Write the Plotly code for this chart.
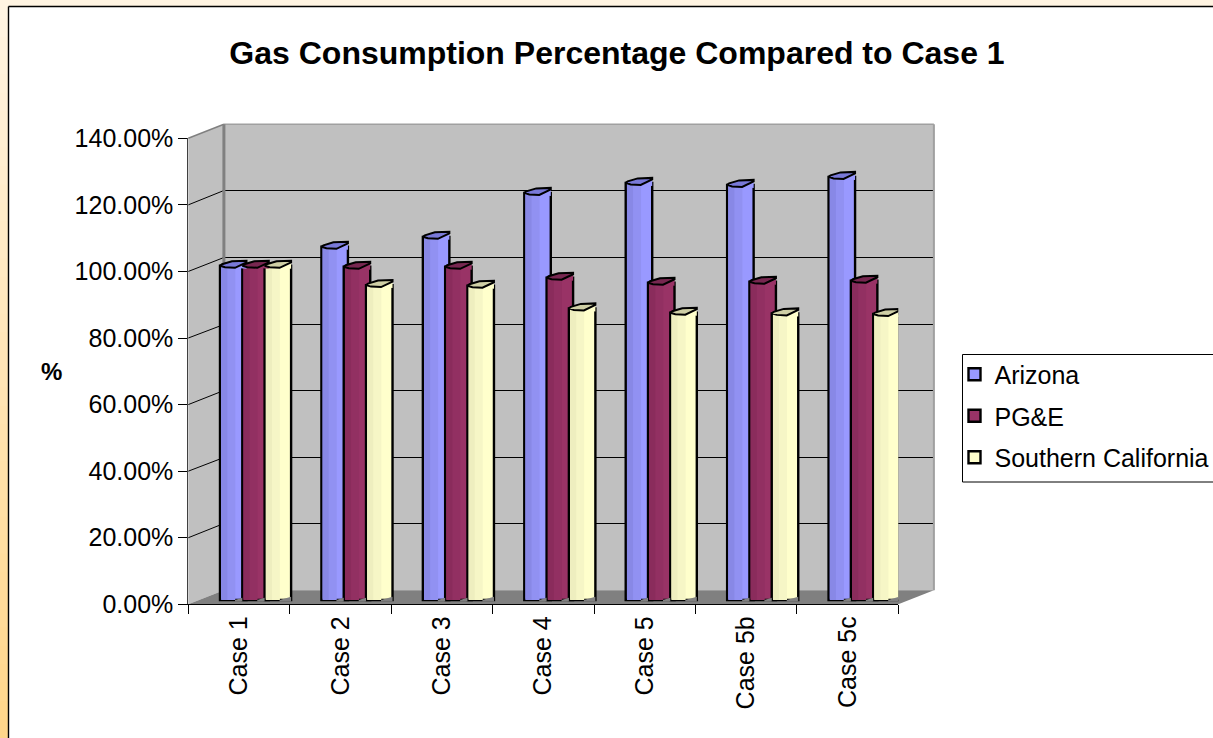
import math
import plotly.graph_objects as go

categories = ["Case 1", "Case 2", "Case 3", "Case 4", "Case 5", "Case 5b", "Case 5c"]
arizona = [100, 105.7, 108.7, 121.9, 124.9, 124.3, 126.7]
pge = [100, 99.7, 99.7, 96.4, 94.9, 95.2, 95.5]
socal = [100, 94.2, 94, 87.2, 85.9, 85.7, 85.5]
series_names = ["Arizona", "PG&E", "Southern California"]
y_ticks = [0, 20, 40, 60, 80, 100, 120, 140]
y_labels = ["0.00%", "20.00%", "40.00%", "60.00%", "80.00%", "100.00%", "120.00%", "140.00%"]

W, H = 1213, 738
X0, X1, Y0, Y1 = 188.3, 898.3, 604.3, 138.3   # front plane of the axes in pixels
DX, DY = 35.6, 14.0                            # 3D depth in pixels
ux = (X1 - X0) / 7
uy = (Y0 - Y1) / 140
FONT = "Liberation Sans"

def px(x): return x / W
def py(y): return 1 - y / H

shapes = []
def poly(pts, fill, line=None, lw=0):
    path = "M" + "L".join(f"{px(a):.5f},{py(b):.5f}" for a, b in pts) + "Z"
    shapes.append(dict(type="path", path=path, xref="paper", yref="paper", layer="below",
                       fillcolor=fill, line=dict(color=line or "rgba(0,0,0,0)", width=lw)))
def seg(x0, y0, x1, y1, color, lw):
    shapes.append(dict(type="line", x0=px(x0), y0=py(y0), x1=px(x1), y1=py(y1), xref="paper", yref="paper",
                       layer="below", line=dict(color=color, width=lw)))

# page band with vertical gradient
BAND = 8
steps = 40
top_c, bot_c = (255, 244, 226), (255, 214, 138)
for k in range(steps):
    t = k / (steps - 1)
    c = tuple(round(a + (b - a) * t) for a, b in zip(top_c, bot_c))
    poly([(0, H * k / steps), (BAND, H * k / steps), (BAND, H * (k + 1) / steps + 1), (0, H * (k + 1) / steps + 1)],
         f"rgb{c}")
poly([(0, 0), (W, 0), (W, 6), (0, 6)], "rgb(255,244,226)")
seg(8.5, 6.5, W, 6.5, "black", 1.4)
seg(8.5, 6.5, 8.5, H, "black", 1.4)

# walls and floor
poly([(X0 + DX, Y1 - DY), (X1 + DX, Y1 - DY), (X1 + DX, Y0 - DY), (X0 + DX, Y0 - DY)], "#c0c0c0")
poly([(X0, Y1), (X0 + DX, Y1 - DY), (X0 + DX, Y0 - DY), (X0, Y0)], "#c0c0c0")
poly([(X0, Y0), (X0 + DX, Y0 - DY), (X1 + DX, Y0 - DY), (X1, Y0)], "#808080")
for v in y_ticks[1:-1]:
    y = Y0 - v * uy
    yb = math.floor(y - DY) + 0.5
    seg(X0, y, X0 + DX, yb, "black", 1)
    seg(X0 + DX, yb, X1 + DX, yb, "black", 1)
seg(X0, Y1, X0 + DX, Y1 - DY, "#808080", 1.5)
seg(X0 + DX, Y1 - DY, X1 + DX, Y1 - DY, "#a0a0a0", 1.5)
seg(X0 + DX, Y1 - DY, X0 + DX, Y0 - DY, "#808080", 3)
seg(X1 + DX, Y1 - DY, X1 + DX, Y0 - DY, "#a0a0a0", 2)

# legend frame (runs off the right edge as in the source)
shapes.append(dict(type="rect", x0=px(962.5), x1=px(W + 5), y0=py(354.5), y1=py(482), xref="paper", yref="paper",
                   layer="below", fillcolor="white", line=dict(color="black", width=1)))

# bars: column placement
BASE = 1.3
HEAD = 0.4
BAR_W = 26.5 / ux
GAP = 22.3 / ux
START = (220 - X0) / ux - 0.5
indices = list(range(len(categories)))
styles = [("#9999ff", "#9191f2", "#8888e6", "#7979d8"),
          ("#993366", "#923062", "#8a2c5c", "#772750"),
          ("#ffffcc", "#f6f6c6", "#eeeebf", "#cfcfa5")]
values = [arizona, pge, socal]

fig = go.Figure()
for s, (vals, name, st) in enumerate(zip(values, series_names, styles)):
    off = START + s * GAP
    heights = [v + HEAD for v in vals]
    fig.add_trace(go.Bar(x=indices, y=heights, base=BASE, width=BAR_W, offset=off, name=name,
                         legendgroup=name, marker=dict(color=st[0], line=dict(color="black", width=2.4)),
                         cliponaxis=False))
    fig.add_trace(go.Bar(x=indices, y=heights, base=BASE, width=14 / ux, offset=off + 1.3 / ux, showlegend=False,
                         marker=dict(color=st[1], line=dict(width=0)), cliponaxis=False))
    fig.add_trace(go.Bar(x=indices, y=heights, base=BASE, width=6 / ux, offset=off + 1.3 / ux, showlegend=False,
                         marker=dict(color=st[2], line=dict(width=0)), cliponaxis=False))

CAP = [(0, 0), (2, -1.5), (12, -4.5), (26.5, -5), (26.5, -3.5), (15, 2), (5, 1.5)]
for s, (vals, st) in enumerate(zip(values, styles)):
    off = START + s * GAP
    cx, cy, sx, sy, fx, fy = [], [], [], [], [], []
    for i, v in zip(indices, vals):
        left = i + off
        top = v + HEAD + BASE
        cx += [left + a / ux for a, _ in CAP] + [left, None]
        cy += [top - b / uy for _, b in CAP] + [top, None]
        sx += [left + 15 / ux, left + 26.5 / ux, left + 26.5 / ux, None]
        sy += [top - 2 / uy, top + 3.5 / uy, top - 3 / uy, None]
        foot_end = 26.5 if s == 2 else 22.3
        rise = 3.2 * (foot_end - 15) / 11
        fx += [left + 15 / ux, left + foot_end / ux, left + foot_end / ux, left + 15 / ux, None]
        fy += [BASE, BASE + rise / uy, BASE - 1.5 / uy, BASE - 1.5 / uy, None]
    fig.add_trace(go.Scatter(x=sx, y=sy, mode="lines", fill="toself", fillcolor=st[0], showlegend=False,
                             line=dict(color="rgba(0,0,0,0)", width=0), cliponaxis=False, hoverinfo="skip"))
    fig.add_trace(go.Scatter(x=cx, y=cy, mode="lines", fill="toself", fillcolor=st[3], showlegend=False,
                             line=dict(color="black", width=2), cliponaxis=False, hoverinfo="skip"))
    fig.add_trace(go.Scatter(x=fx, y=fy, mode="lines", fill="toself", fillcolor="#808080", showlegend=False,
                             line=dict(color="rgba(0,0,0,0)", width=0), cliponaxis=False, hoverinfo="skip"))

fig.update_layout(
    width=W, height=H, autosize=False, barmode="overlay",
    margin=dict(l=0, r=0, t=0, b=0, autoexpand=False),
    paper_bgcolor="white", plot_bgcolor="rgba(0,0,0,0)",
    font=dict(family=FONT, color="black", size=25),
    title=dict(text="<b>Gas Consumption Percentage Compared to Case 1</b>", x=617 / W, xanchor="center",
               y=py(53), yanchor="middle", font=dict(family=FONT, size=32, color="black")),
    xaxis=dict(domain=[px(X0), px(X1)], range=[-0.5, 6.5], tickmode="array", tickvals=indices, ticktext=categories,
               tickangle=-90, ticks="outside", ticklen=1, tickcolor="rgba(0,0,0,0)", showgrid=False, zeroline=False,
               showline=True, linecolor="black", linewidth=1, tickfont=dict(size=25),
               minor=dict(ticks="outside", tick0=-0.5, dtick=1, ticklen=9, tickcolor="black", tickwidth=1, showgrid=False)),
    yaxis=dict(domain=[py(Y0), py(Y1)], range=[0, 140], tickmode="array", tickvals=y_ticks, ticktext=y_labels,
               ticks="outside", ticklen=9, tickcolor="black", tickwidth=1, showgrid=False, zeroline=False,
               showline=True, linecolor="#404040", linewidth=1, tickfont=dict(size=25)),
    legend=dict(x=954.5 / W, xanchor="left", y=py(351.5), yanchor="top", bgcolor="rgba(0,0,0,0)", borderwidth=0,
                font=dict(size=25), traceorder="grouped", tracegroupgap=6),
    annotations=[dict(text="<b>%</b>", x=51.5 / W, y=py(371), xref="paper", yref="paper", showarrow=False,
                      xanchor="center", yanchor="middle", font=dict(size=24, family=FONT))],
    shapes=shapes,
    showlegend=True,
)
fig.write_html("out.html", config={"displayModeBar": False},
               post_script="document.body.style.margin='0';document.documentElement.style.overflow='hidden';")
